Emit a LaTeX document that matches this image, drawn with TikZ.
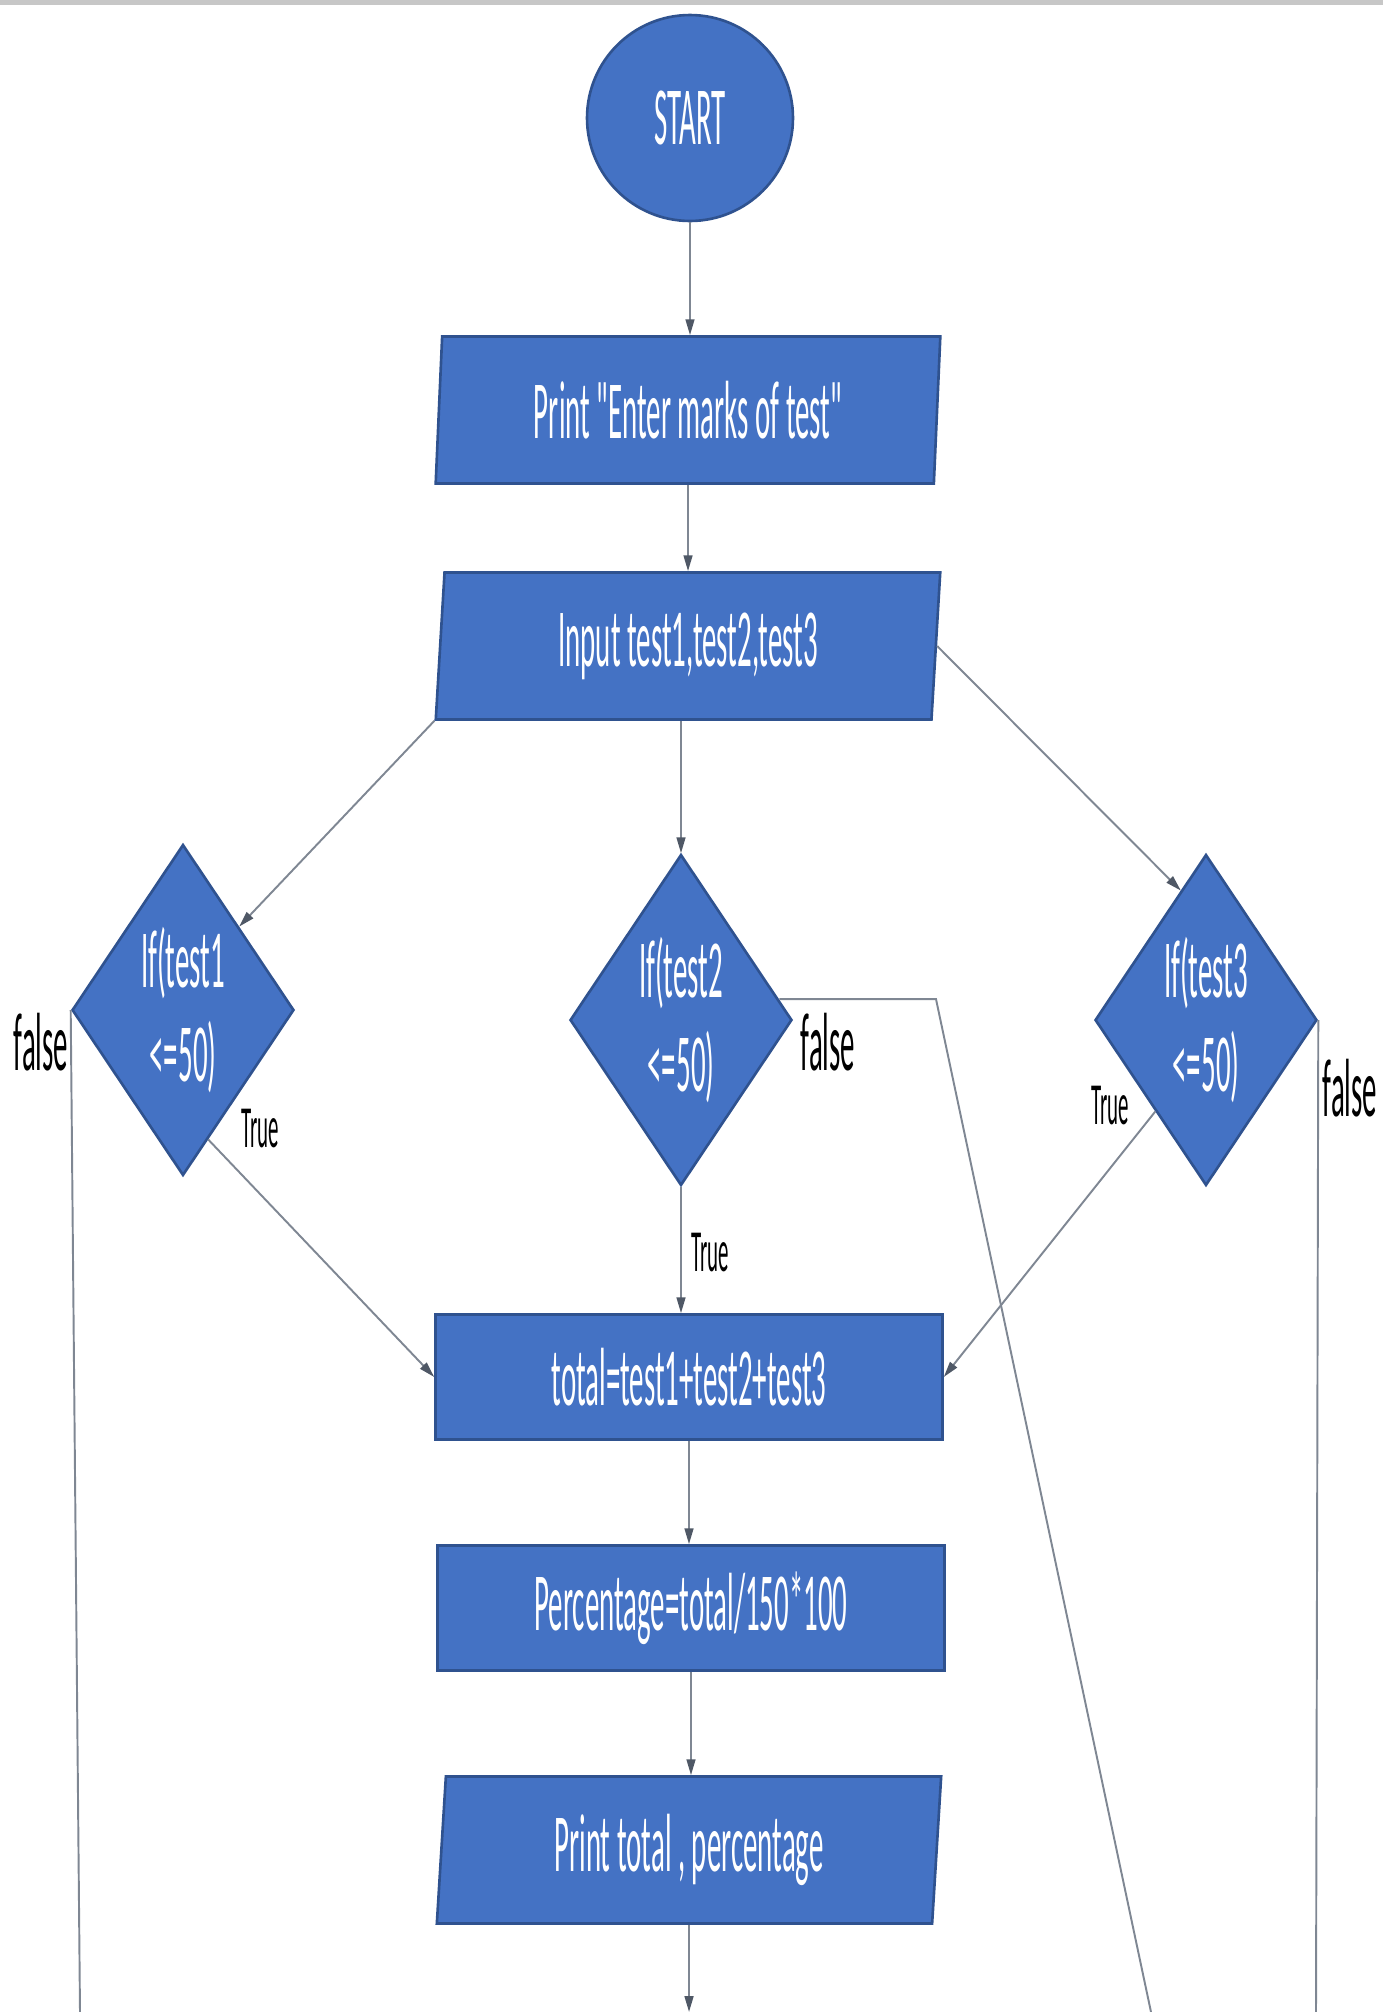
\documentclass[tikz,border=0pt]{standalone}
\usepackage{fontspec}
\setmainfont{Carlito}[FakeStretch=0.35,Ligatures=TeXOff]
\usetikzlibrary{shapes.geometric,arrows.meta}
\definecolor{boxblue}{HTML}{4472C4}
\definecolor{boxedge}{HTML}{2F528F}
\definecolor{wire}{HTML}{7F8793}
\definecolor{tipgray}{HTML}{4F5866}
\begin{document}
\begin{tikzpicture}[x=0.02cm,y=-0.02cm,
  every node/.style={font=\fontsize{47}{54}\selectfont},
  blk/.style={draw=boxedge,line width=1.5pt,fill=boxblue,text=white,inner sep=0pt},
  term/.style={blk,circle,minimum size=4.12cm},
  io/.style={blk,trapezium,trapezium stretches=true,trapezium left angle=86,
    trapezium right angle=94,minimum width=10.1cm,minimum height=2.94cm},
  proc/.style={blk,rectangle,minimum width=10.14cm,minimum height=2.5cm},
  cond/.style={blk,diamond,shape aspect=0.67,minimum width=4.44cm,minimum height=6.62cm,align=center},
  lbl/.style={text=black,inner sep=0pt},
  tlbl/.style={lbl,font=\fontsize{34}{40}\selectfont},
  flow/.style={draw=wire,line width=1.1pt,-{Triangle[length=9pt,width=5pt,color=tipgray]}},
  wireline/.style={draw=wire,line width=1.1pt}]
\useasboundingbox (0,0) rectangle (1383,2012);
\fill[black!22] (0,0) rectangle (1383,5);
% main column
\node[term] (start) at (690,118) {START};
\node[io] (pr1) at (688,410) {Print "Enter marks of test"};
\node[io] (inp) at (688,646) {Input test1,test2,test3};
\node[proc] (tot) at (689,1377) {total=test1+test2+test3};
\node[proc] (perc) at (691,1608) {Percentage=total/150*100};
\node[io] (pto) at (689,1850) {Print total , percentage};
% the three checks
\foreach \n/\x/\y in {1/183/1010,2/681/1020,3/1206/1020}
  \node[cond] (d\n) at (\x,\y) {If(test\n\\<=50)};
% branch labels
\node[lbl] (f1) at (41,1042) {false};
\node[lbl] (f2) at (828,1042) {false};
\node[lbl] (f3) at (1350,1088) {false};
\node[tlbl] (t1) at (260,1129) {True};
\node[tlbl] (t2) at (710,1253) {True};
\node[tlbl] (t3) at (1110,1106) {True};
% loose ends at the bottom
\coordinate (out) at (693,2012);
\coordinate (e1) at (80,2012);
\coordinate (k2) at (936,999);
\coordinate (e2) at (1151,2012);
\coordinate (e3) at (1316,2012);
\draw[flow] (start.south) -- (start.south |- pr1.north);
\draw[flow] (pr1.south) -- (pr1.south |- inp.north);
\draw[flow] (inp.bottom left corner) -- (d1.north east);
\draw[flow] (inp.south -| d2.north) -- (d2.north);
\draw[flow] (inp.east) -- (d3.101);
\draw[flow] (d1.-79) -- (tot.west);
\draw[flow] (d2.south) -- (tot.north -| d2.south);
\draw[flow] (d3.-119) -- (tot.east);
\draw[flow] (tot.south) -- (perc.north -| tot.south);
\draw[flow] (perc.south) -- (pto.north -| perc.south);
\draw[flow] (pto.south) -- (pto.south |- out);
\draw[wireline] (d1.west) -- (e1);
\draw[wireline] (d2.12) -- (d2.12 -| k2) -- (e2);
\draw[wireline] (d3.east) -- (e3);
\end{tikzpicture}
\end{document}
